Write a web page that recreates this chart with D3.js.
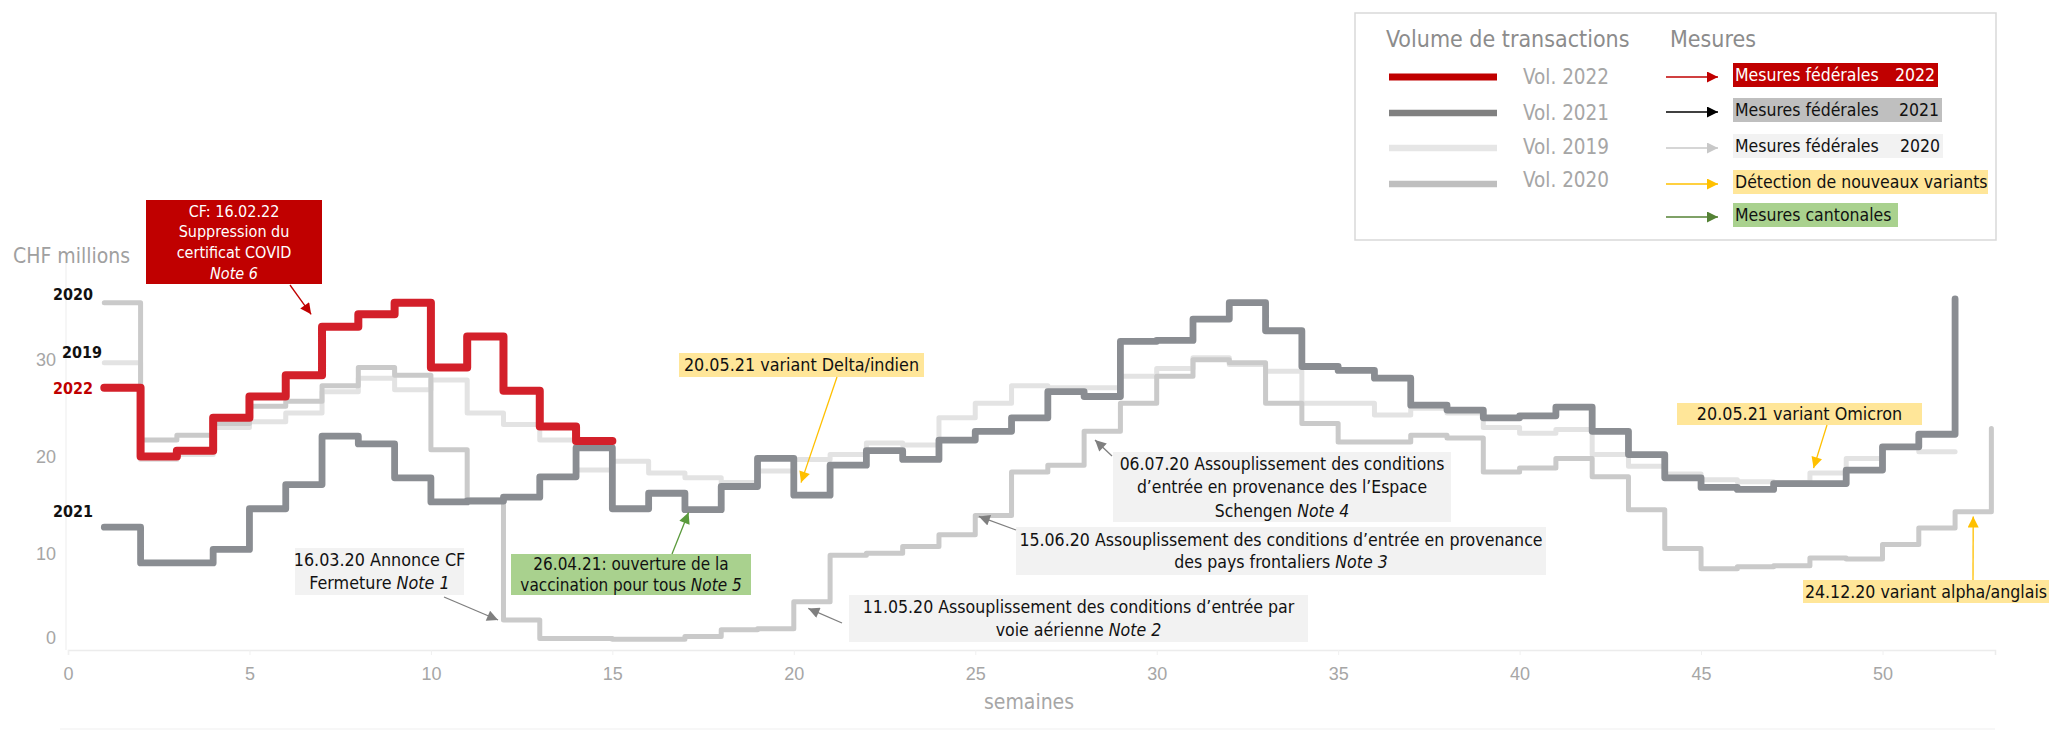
<!DOCTYPE html>
<html>
<head>
<meta charset="utf-8">
<script src="https://cdn.jsdelivr.net/npm/d3@7"></script>
<style>
  body { margin: 0; background: #fff; }
  svg { display: block; font-family: "Liberation Sans Narrow", "DejaVu Sans Condensed", "Roboto", sans-serif; }
</style>
</head>
<body>
<svg id="chart" width="2049" height="731"></svg>
<script>
// weekly transaction volume, CHF millions (value i = week i+1)
var vol2019 = [29.7, 19.7, 20.2, 23.0, 23.6, 24.5, 26.7, 28.1, 26.9, 27.9, 24.5, 23.3, 21.7, 18.6, 19.5, 18.3,
  17.8, 17.3, 18.5, 19.7, 20.2, 21.4, 21.2, 24.0, 25.5, 27.3, 27.1, 27.1, 28.3, 29.1, 30.2, 29.5, 28.8, 25.5,
  25.5, 24.3, 25.0, 24.5, 23.0, 22.4, 22.8, 20.2, 19.0, 18.2, 17.6, 17.4, 17.3, 18.3, 19.8, 21.0, 20.5, 20.5];
var vol2020 = [35.9, 21.7, 22.2, 23.4, 25.2, 25.7, 27.3, 29.2, 28.4, 20.7, 15.5, 3.1, 1.2, 1.2, 1.1, 1.1,
  1.4, 2.1, 2.2, 5.0, 9.8, 10.0, 10.7, 11.9, 13.9, 18.4, 19.1, 22.6, 25.5, 28.3, 30.0, 29.7, 25.5, 23.4,
  21.5, 21.5, 22.2, 21.9, 18.4, 18.8, 19.8, 17.9, 14.5, 10.5, 8.4, 8.6, 8.7, 9.5, 9.4, 10.9, 12.6, 14.3, 22.9];
var vol2021 = [12.7, 9.0, 9.0, 10.4, 14.6, 17.1, 22.1, 21.3, 17.8, 15.3, 15.4, 15.8, 17.9, 20.9, 14.6, 16.2,
  14.5, 16.9, 19.8, 16.0, 19.1, 20.6, 19.7, 21.7, 22.6, 24.0, 26.7, 26.2, 31.9, 32.0, 34.2, 35.9, 33.0, 29.3,
  28.9, 28.1, 25.3, 24.8, 24.0, 24.2, 25.1, 22.6, 20.2, 17.8, 16.8, 16.6, 17.2, 17.2, 18.6, 21.0, 22.3, 36.3];
var vol2022 = [27.1, 20.0, 20.6, 24.0, 26.2, 28.4, 33.4, 34.7, 35.9, 29.2, 32.4, 26.8, 23.1, 21.6, 21.6];

var xTicks = [0, 5, 10, 15, 20, 25, 30, 35, 40, 45, 50];
var yTicks = [0, 10, 20, 30];

var seriesNames = ["2019", "2020", "2021", "2022"];
var legendVol = ["Vol. 2022", "Vol. 2021", "Vol. 2019", "Vol. 2020"];
var legendMes = [["Mesures fédérales", "2022"], ["Mesures fédérales", "2021"], ["Mesures fédérales", "2020"],
  ["Détection de nouveaux variants", ""], ["Mesures cantonales", ""]];

// annotations: text lines (segments: [text, italic]) and the point (week, value) the arrow hits
var noteText = [
  [[["CF: 16.02.22"]], [["Suppression du"]], [["certificat COVID"]], [["Note 6", 1]]],
  [[["16.03.20 Annonce CF"]], [["Fermeture "], ["Note 1", 1]]],
  [[["26.04.21: ouverture de la"]], [["vaccination pour tous "], ["Note 5", 1]]],
  [[["20.05.21 variant Delta/indien"]]],
  [[["11.05.20 Assouplissement des conditions d’entrée par"]], [["voie aérienne "], ["Note 2", 1]]],
  [[["15.06.20 Assouplissement des conditions d’entrée en provenance"]], [["des pays frontaliers "], ["Note 3", 1]]],
  [[["06.07.20 Assouplissement des conditions"]], [["d’entrée en provenance des l’Espace"]], [["Schengen "], ["Note 4", 1]]],
  [[["20.05.21 variant Omicron"]]],
  [[["24.12.20 variant alpha/anglais"]]]
];
var noteTarget = [[6.7, 34.7], [11.85, 3.1], [17.1, 14.2], [20.2, 17.3], [20.4, 4.3], [25.1, 13.8],
  [28.3, 21.7], [48.1, 18.8], [52.5, 13.8]];

// layout
var svg = d3.select("#chart");
var x = d3.scaleLinear().domain([0, 53.1]).range([68, 1995]);
var y = d3.scaleLinear().domain([0, 40]).range([650, 263]);

var grayText = "#a6a6a6";

var noteStyle = [
  {box: [146, 200, 176, 84], fill: "#c00000", color: "#fff", size: 16, lh: 20.7, from: [290, 285], arrow: "#c00000"},
  {box: [295, 548, 169, 47], fill: "#f2f2f2", color: "#111", size: 17.8, lh: 22.5, from: [444, 597], arrow: "#7f7f7f"},
  {box: [511, 554, 240, 41], fill: "#a9d18e", color: "#111", size: 17, lh: 20.5, from: [672, 554], arrow: "#5a9a3c"},
  {box: [679, 353, 245, 24], fill: "#ffe699", color: "#111", size: 17.8, lh: 22, from: [837, 377], arrow: "#ffc000"},
  {box: [849, 595, 459, 47], fill: "#f2f2f2", color: "#111", size: 17.6, lh: 22.5, from: [842, 623], arrow: "#7f7f7f"},
  {box: [1016, 527, 530, 48], fill: "#f2f2f2", color: "#111", size: 17.6, lh: 22.5, from: [1016, 530], arrow: "#7f7f7f"},
  {box: [1113, 452, 338, 70], fill: "#f2f2f2", color: "#111", size: 17.4, lh: 23.5, from: [1112, 456], arrow: "#7f7f7f"},
  {box: [1677, 403, 245, 22], fill: "#ffe699", color: "#111", size: 17.8, lh: 22, from: [1827, 425], arrow: "#ffc000"},
  {box: [1803, 580, 246, 23], fill: "#ffe699", color: "#111", size: 17.6, lh: 22, from: [1973, 580], arrow: "#ffc000"}
];

var defs = svg.append("defs");
function marker(id, color) {
  defs.append("marker").attr("id", id)
    .attr("viewBox", "0 0 10 10").attr("refX", 10).attr("refY", 5)
    .attr("markerUnits", "userSpaceOnUse").attr("markerWidth", 13).attr("markerHeight", 11)
    .attr("orient", "auto")
    .append("path").attr("d", "M0,0 L10,5 L0,10 z").attr("fill", color);
}
var markerColors = ["#c00000", "#7f7f7f", "#5a9a3c", "#ffc000", "#000000", "#c8c8c8", "#548235"];
markerColors.forEach(function(c, i) { marker("m" + i, c); });
function markerFor(c) { return "url(#m" + markerColors.indexOf(c) + ")"; }

// faint frame lines
svg.append("line").attr("x1", 66).attr("x2", 66).attr("y1", 263).attr("y2", 650)
  .attr("stroke", "#f3f3f3").attr("stroke-width", 1.5);
svg.append("line").attr("x1", 60).attr("x2", 1995).attr("y1", 729).attr("y2", 729)
  .attr("stroke", "#f5f5f5").attr("stroke-width", 1.5);

// x axis
var xAxis = svg.append("g").attr("transform", "translate(0,650)")
  .call(d3.axisBottom(x).tickValues(xTicks).tickSize(5).tickPadding(12));
xAxis.select(".domain").attr("stroke", "#ececec").attr("stroke-width", 1.5);
xAxis.selectAll(".tick line").attr("stroke", "#f0f0f0");
xAxis.selectAll(".tick text").attr("fill", grayText).attr("font-size", 18).attr("font-family", null);

// y axis labels
var yAxis = svg.append("g").attr("transform", "translate(56,0)")
  .call(d3.axisLeft(y).tickValues(yTicks).tickSize(0).tickPadding(0));
yAxis.select(".domain").remove();
yAxis.selectAll(".tick text").attr("fill", grayText).attr("font-size", 18).attr("font-family", null)
  .attr("dy", function(d) { return d === 0 ? "-0.35em" : "0.32em"; });

svg.append("text").attr("x", 13).attr("y", 263).attr("fill", "#a0a0a0").attr("font-size", 21)
  .text("CHF millions");
svg.append("text").attr("x", 1029).attr("y", 709).attr("text-anchor", "middle")
  .attr("fill", grayText).attr("font-size", 21).text("semaines");

// series
var line = d3.line()
  .x(function(d, i) { return x(i + 1); })
  .y(function(d) { return y(d); })
  .curve(d3.curveStepAfter);

var seriesData = [vol2019, vol2020, vol2021, vol2022];
var seriesColor = ["#e3e3e3", "#cacaca", "#8a8d92", "#d3202a"];
var seriesWidth = [5, 5, 6.8, 8];
svg.append("g").selectAll("path").data(seriesData).join("path")
  .attr("d", line)
  .attr("fill", "none")
  .attr("stroke", function(d, i) { return seriesColor[i]; })
  .attr("stroke-width", function(d, i) { return seriesWidth[i]; })
  .attr("stroke-linejoin", "round")
  .attr("stroke-linecap", "round");

// year labels at series start
var labelDy = [-10, -8, -16, 1];
var labelColor = ["#111", "#111", "#111", "#c00000"];
svg.append("g").selectAll("text").data(seriesData).join("text")
  .attr("x", function(d, i) { return i === 0 ? 102 : 93; })
  .attr("y", function(d, i) { return y(d[0]) + labelDy[i]; })
  .attr("dy", "0.35em")
  .attr("text-anchor", "end")
  .attr("font-size", 16).attr("font-weight", "bold")
  .attr("fill", function(d, i) { return labelColor[i]; })
  .text(function(d, i) { return seriesNames[i]; });

// annotations
noteText.forEach(function(lines, k) {
  var s = noteStyle[k], b = s.box;
  var g = svg.append("g");
  g.append("rect").attr("x", b[0]).attr("y", b[1]).attr("width", b[2]).attr("height", b[3]).attr("fill", s.fill);
  var cx = b[0] + b[2] / 2, top = b[1] + b[3] / 2 - (lines.length - 1) * s.lh / 2;
  lines.forEach(function(segs, j) {
    var t = g.append("text").attr("x", cx).attr("y", top + j * s.lh).attr("dy", "0.35em")
      .attr("text-anchor", "middle").attr("font-size", s.size).attr("fill", s.color);
    segs.forEach(function(sg) {
      t.append("tspan").attr("font-style", sg[1] ? "italic" : null).text(sg[0]);
    });
  });
  var tip = noteTarget[k];
  g.append("line").attr("x1", s.from[0]).attr("y1", s.from[1])
    .attr("x2", x(tip[0])).attr("y2", y(tip[1]))
    .attr("stroke", s.arrow).attr("stroke-width", 1.3)
    .attr("marker-end", markerFor(s.arrow));
});

// legend
var lg = svg.append("g");
lg.append("rect").attr("x", 1355).attr("y", 13).attr("width", 641).attr("height", 227)
  .attr("fill", "#fff").attr("stroke", "#d9d9d9").attr("stroke-width", 1.5);
lg.append("text").attr("x", 1386).attr("y", 39).attr("dy", "0.35em").attr("font-size", 23)
  .attr("fill", "#8c8c8c").text("Volume de transactions");
lg.append("text").attr("x", 1670).attr("y", 39).attr("dy", "0.35em").attr("font-size", 23)
  .attr("fill", "#8c8c8c").text("Mesures");

var volRowY = [77, 113, 148, 184];
var volTextY = [77, 113, 147, 180];
var volColor = ["#c00000", "#808080", "#e6e6e6", "#bfbfbf"];
var volWidth = [7, 6.5, 6.5, 6.5];
legendVol.forEach(function(t, i) {
  lg.append("line").attr("x1", 1389).attr("x2", 1497).attr("y1", volRowY[i]).attr("y2", volRowY[i])
    .attr("stroke", volColor[i]).attr("stroke-width", volWidth[i]);
  lg.append("text").attr("x", 1523).attr("y", volTextY[i]).attr("dy", "0.35em").attr("font-size", 20.5)
    .attr("fill", grayText).text(t);
});

var mesRowY = [75, 110, 146, 182, 215];
var mesBoxW = [205, 209, 210, 255, 165];
var mesFill = ["#c00000", "#bfbfbf", "#f2f2f2", "#ffe699", "#a9d18e"];
var mesText = ["#fff", "#111", "#111", "#111", "#111"];
var mesArrow = ["#c00000", "#000000", "#c8c8c8", "#ffc000", "#548235"];
legendMes.forEach(function(m, i) {
  lg.append("line").attr("x1", 1666).attr("x2", 1718).attr("y1", mesRowY[i] + 2).attr("y2", mesRowY[i] + 2)
    .attr("stroke", mesArrow[i]).attr("stroke-width", 1.5).attr("marker-end", markerFor(mesArrow[i]));
  lg.append("rect").attr("x", 1733).attr("y", mesRowY[i] - 12).attr("width", mesBoxW[i]).attr("height", 24)
    .attr("fill", mesFill[i]);
  lg.append("text").attr("x", 1735).attr("y", mesRowY[i]).attr("dy", "0.35em").attr("font-size", 17.5)
    .attr("fill", mesText[i]).text(m[0]);
  if (m[1]) lg.append("text").attr("x", 1733 + mesBoxW[i] - 3).attr("y", mesRowY[i]).attr("dy", "0.35em")
    .attr("text-anchor", "end").attr("font-size", 17.5).attr("fill", mesText[i]).text(m[1]);
});
</script>
</body>
</html>
